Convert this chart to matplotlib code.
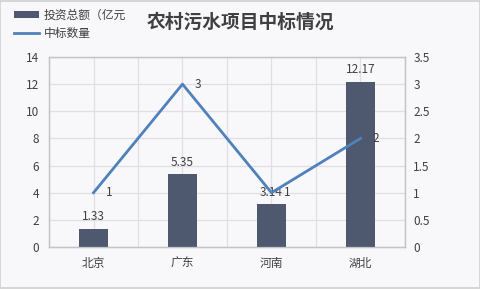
import matplotlib
matplotlib.use("Agg")
import matplotlib.pyplot as plt
import numpy as np

plt.rcParams['font.family'] = ['Noto Sans CJK SC', 'DejaVu Sans']

categories = ["北京", "广东", "河南", "湖北"]
investment = [1.33, 5.35, 3.14, 12.17]
bid_counts = [1, 3, 1, 2]
left_ticks = [0, 2, 4, 6, 8, 10, 12, 14]
right_ticks = [0, 0.5, 1, 1.5, 2, 2.5, 3, 3.5]
right_tick_labels = ["0", "0.5", "1", "1.5", "2", "2.5", "3", "3.5"]

bg = "#f8f7fa"
bar_color = "#4e586e"
line_color = "#4f81bd"
grid_color = "#e1dfe4"
spine_color = "#c4c4c8"
text_color = "#404040"

fig = plt.figure(figsize=(4.81, 2.89), dpi=100, facecolor=bg)
ax = fig.add_axes([0.1019, 0.1453, 0.740, 0.6575])
ax.set_facecolor(bg)
ax2 = ax.twinx()

x = np.arange(len(categories))
bars = ax.bar(x, investment, width=0.32, color=bar_color, zorder=3, label="投资总额（亿元")
ax.set_xlim(-0.5, len(categories) - 0.5)
ax.set_ylim(0, 14)
ax.set_yticks(left_ticks)
ax.set_xticks(x)
ax.set_xticklabels(categories)
ax.set_xticks(np.arange(-0.5, len(categories), 1.0), minor=True)
ax.grid(True, which="both", color=grid_color, linewidth=0.9, zorder=0)
ax.set_axisbelow(True)
ax.tick_params(axis="both", which="both", length=0, colors=text_color, labelsize=8.5)
ax.tick_params(axis="x", pad=7)
ax.tick_params(axis="y", pad=7)

for xi, v in zip(x, investment):
    ax.annotate(f"{v:g}", (xi, v), xytext=(0, 4), textcoords="offset points",
                ha="center", va="bottom", fontsize=8.5, color=text_color, zorder=5)

ax2.plot(x, bid_counts, color=line_color, linewidth=2.0, zorder=4, label="中标数量")
ax2.set_ylim(0, 3.5)
ax2.set_yticks(right_ticks)
ax2.set_yticklabels(right_tick_labels)
ax2.tick_params(axis="y", length=0, colors=text_color, labelsize=8.5, pad=6)
for xi, v in zip(x, bid_counts):
    ax2.annotate(f"{v:g}", (xi, v), xytext=(11, 0), textcoords="offset points",
                 ha="center", va="center", fontsize=8.5, color=text_color, zorder=5)

for a in (ax, ax2):
    for s in a.spines.values():
        s.set_color(spine_color)
        s.set_linewidth(0.9)

fig.suptitle("农村污水项目中标情况", x=0.5, y=0.955, fontsize=13.5,
             fontweight="bold", color=text_color)

handles = [bars, ax2.get_lines()[0]]
labels = ["投资总额（亿元", "中标数量"]
fig.legend(handles, labels, loc="upper left", bbox_to_anchor=(0.015, 0.995),
           frameon=False, fontsize=8.5, handlelength=2.1, handleheight=0.5,
           handletextpad=0.4, labelspacing=0.45, borderaxespad=0.2,
           labelcolor=text_color)

fig.patches.append(plt.Rectangle((0.001, 0.002), 0.997, 0.995, transform=fig.transFigure,
                                 fill=False, edgecolor="#d0d0d0", linewidth=1.2))

fig.savefig("out.png", dpi=100, facecolor=bg)
